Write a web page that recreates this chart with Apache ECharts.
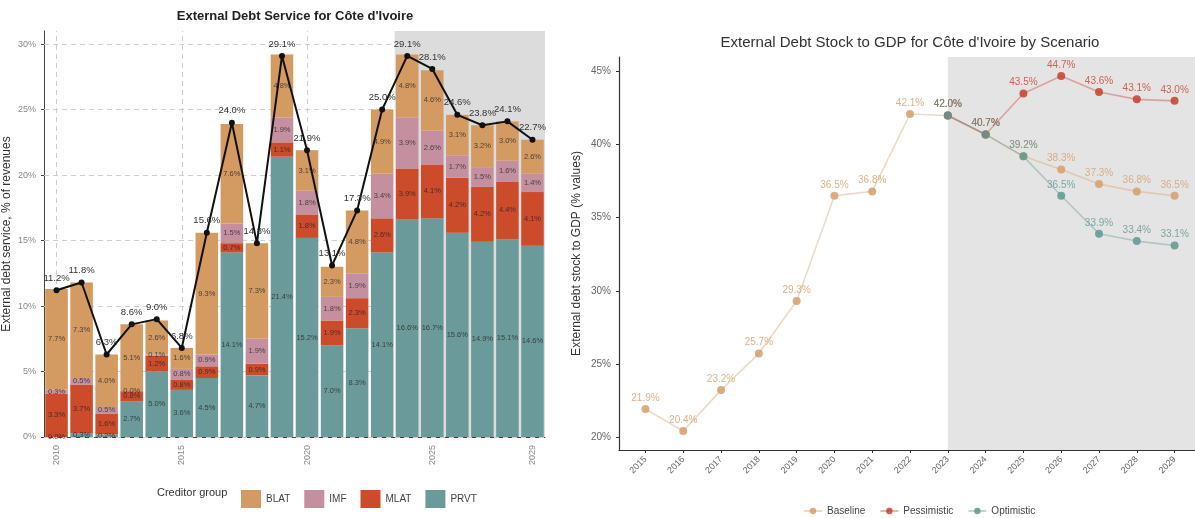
<!DOCTYPE html>
<html><head><meta charset="utf-8">
<script src="https://cdn.jsdelivr.net/npm/echarts@6/dist/echarts.min.js"></script>
<style>html,body{margin:0;padding:0;background:#fff}#c{width:1195px;height:518px}</style>
</head><body><div id="c"></div>
<script>
// ---- Left chart data: External debt service (% of revenues) ----
const years = ['2010','2011','2012','2013','2014','2015','2016','2017','2018','2019','2020','2021','2022','2023','2024','2025','2026','2027','2028','2029'];
const yearTickLabels = ['2010','2015','2020','2025','2029'];
const prvt = [0.0,0.3,0.2,2.7,5.0,3.6,4.5,14.1,4.7,21.4,15.2,7.0,8.3,14.1,16.6,16.7,15.6,14.9,15.1,14.6];
const mlat = [3.3,3.7,1.6,0.8,1.2,0.8,0.9,0.7,0.9,1.1,1.8,1.9,2.3,2.6,3.9,4.1,4.2,4.2,4.4,4.1];
const imf  = [0.3,0.5,0.5,0.0,0.1,0.8,0.9,1.5,1.9,1.9,1.8,1.8,1.9,3.4,3.9,2.6,1.7,1.5,1.6,1.4];
const blat = [7.7,7.3,4.0,5.1,2.6,1.6,9.3,7.6,7.3,4.8,3.1,2.3,4.8,4.9,4.8,4.6,3.1,3.2,3.0,2.6];
const totalService = [11.2,11.8,6.3,8.6,9.0,6.8,15.6,24.0,14.8,29.1,21.9,13.1,17.3,25.0,29.1,28.1,24.6,23.8,24.1,22.7];
const leftYTicks = [0,5,10,15,20,25,30];
const leftXGrid = [2010,2015,2020,2025];
const projStartLeft = 2023.5;

// ---- Right chart data: External debt stock to GDP by scenario ----
const stockYears = [2015,2016,2017,2018,2019,2020,2021,2022,2023,2024,2025,2026,2027,2028,2029];
const baseline = [21.9,20.4,23.2,25.7,29.3,36.5,36.8,42.1,42.0,40.7,39.2,38.3,37.3,36.8,36.5];
const scenYears = [2023,2024,2025,2026,2027,2028,2029];
const pessimistic = [42.0,40.7,43.5,44.7,43.6,43.1,43.0];
const optimistic = [42.0,40.7,39.2,36.5,33.9,33.4,33.1];
const rightYTicks = [20,25,30,35,40,45];
const projStartRight = 2023;

const C = {BLAT:'#D39A62', IMF:'#C4909F', MLAT:'#CB4B2B', PRVT:'#6A9B9A'};
const S = {Baseline:'#D4A06C', Pessimistic:'#C7402F', Optimistic:'#5E9990'};
const pct = v => v.toFixed(1) + '%';

const chart = echarts.init(document.getElementById('c'), null, {renderer:'canvas'});

function barSeries(name, data){
  return {
    name, type:'bar', stack:'debt', xAxisIndex:0, yAxisIndex:0, z:3,
    data, barWidth:'90%', itemStyle:{color:C[name]},
    label:{show:true, position:'inside', fontSize:7.5, color:'rgba(35,35,35,0.75)', fontFamily:'Liberation Sans',
      formatter:p=>pct(p.value)}
  };
}
function scen(name, xs, ys){
  return {
    name, type:'line', xAxisIndex:2, yAxisIndex:1, z:4,
    data: xs.map((x,i)=>[x, ys[i]]),
    symbol:'circle', symbolSize:8,
    itemStyle:{color:S[name], opacity:0.85},
    lineStyle:{color:S[name], width:1.6, opacity:0.4},
    label:{show:true, position:'top', distance:2, fontSize:10, color:S[name], opacity:0.8, fontFamily:'Liberation Sans',
      formatter:p=>pct(p.value[1])}
  };
}

const option = {
  animation:false,
  textStyle:{fontFamily:'Liberation Sans'},
  graphic:[
    {type:'text', x:295, y:10, style:{text:"External Debt Service for Côte d'Ivoire", font:'bold 13px Liberation Sans', fill:'#222', align:'center', textAlign:'center'}},
    {type:'text', x:910, y:35, style:{text:"External Debt Stock to GDP for Côte d'Ivoire by Scenario", font:'15px Liberation Sans', fill:'#333', align:'center', textAlign:'center'}},
    {type:'text', x:157, y:487, style:{text:'Creditor group', font:'11px Liberation Sans', fill:'#333'}}
  ],
  legend:[
    {data:['BLAT','IMF','MLAT','PRVT'], left:236, top:485, icon:'rect', itemWidth:20, itemHeight:18, itemGap:14,
      textStyle:{fontSize:10, color:'#444'}},
    {data:['Baseline','Pessimistic','Optimistic'], left:798, top:501, itemWidth:18, itemHeight:8, itemGap:14,
      textStyle:{fontSize:10, color:'#444'}}
  ],
  grid:[
    {left:44, right:650, top:31, bottom:81},
    {left:619, right:0, top:57, bottom:68}
  ],
  xAxis:[
    {type:'category', gridIndex:0, data:years, boundaryGap:true,
      axisLine:{lineStyle:{color:'#444'}},
      axisTick:{alignWithLabel:true, length:3, lineStyle:{color:'#444'}, interval:(i,v)=>yearTickLabels.includes(v)},
      axisLabel:{rotate:90, fontSize:9, color:'#888', interval:(i,v)=>yearTickLabels.includes(v)},
      splitLine:{show:false}},
    {type:'value', gridIndex:0, min:2009.5, max:2029.5, show:false},
    {type:'value', gridIndex:1, min:2014.3, max:2029.54,
      axisLine:{onZero:false, lineStyle:{color:'#333', width:1.2}},
      axisTick:{customValues:stockYears, length:3, lineStyle:{color:'#333'}},
      axisLabel:{customValues:stockYears, rotate:45, fontSize:9, color:'#666', margin:8, formatter:v=>String(v)},
      splitLine:{show:false}}
  ],
  yAxis:[
    {type:'value', gridIndex:0, min:0, max:31,
      name:'External debt service, % of revenues', nameLocation:'middle', nameGap:31, nameRotate:90,
      nameTextStyle:{fontSize:12, color:'#333'},
      axisLine:{show:true, lineStyle:{color:'#444'}},
      axisTick:{show:true, customValues:leftYTicks, length:3, lineStyle:{color:'#444'}},
      axisLabel:{customValues:leftYTicks, fontSize:9, color:'#888', formatter:v=>v+'%'},
      splitLine:{show:false}},
    {type:'value', gridIndex:1, min:19.1, max:46.0,
      name:'External debt stock to GDP (% values)', nameLocation:'middle', nameGap:36, nameRotate:90,
      nameTextStyle:{fontSize:12, color:'#333'},
      axisLine:{show:true, onZero:false, lineStyle:{color:'#333', width:1.2}},
      axisTick:{show:true, customValues:rightYTicks, length:3, lineStyle:{color:'#333'}},
      axisLabel:{customValues:rightYTicks, fontSize:10, color:'#666', formatter:v=>v+'%'},
      splitLine:{show:false}}
  ],
  series:[
    // gridlines (left)
    {type:'line', xAxisIndex:1, yAxisIndex:0, z:1, data:[[2010,0]], symbol:'none', silent:true,
      lineStyle:{opacity:0},
      markLine:{silent:true, z:1, symbol:'none', label:{show:false},
        lineStyle:{color:'#cfcfcf', type:[5,4], width:1},
        data: leftYTicks.map(v=>({yAxis:v})).concat(leftXGrid.map(v=>({xAxis:v})))}},
    // projection shade (left)
    {type:'line', xAxisIndex:1, yAxisIndex:0, z:2, data:[[2010,0]], symbol:'none', silent:true,
      lineStyle:{opacity:0},
      markArea:{silent:true, z:2, itemStyle:{color:'#DCDCDC'},
        data:[[{xAxis:projStartLeft, yAxis:0},{xAxis:2029.5, yAxis:31}]]}},
    barSeries('PRVT', prvt),
    barSeries('MLAT', mlat),
    barSeries('IMF', imf),
    barSeries('BLAT', blat),
    {name:'Total', type:'line', xAxisIndex:0, yAxisIndex:0, z:5, data:totalService,
      symbol:'circle', symbolSize:6, itemStyle:{color:'#111'}, lineStyle:{color:'#111', width:2},
      label:{show:true, position:'top', distance:4, fontSize:9.5, color:'#333', formatter:p=>pct(p.value)}},
    // projection shade (right)
    {type:'line', xAxisIndex:2, yAxisIndex:1, z:1, data:[[2015,20]], symbol:'none', silent:true,
      lineStyle:{opacity:0},
      markArea:{silent:true, z:1, itemStyle:{color:'#E4E4E4'},
        data:[[{xAxis:projStartRight, yAxis:19.1},{xAxis:2029.54, yAxis:46}]]}},
    scen('Baseline', stockYears, baseline),
    scen('Pessimistic', scenYears, pessimistic),
    scen('Optimistic', scenYears, optimistic)
  ]
};
chart.setOption(option);
</script></body></html>
